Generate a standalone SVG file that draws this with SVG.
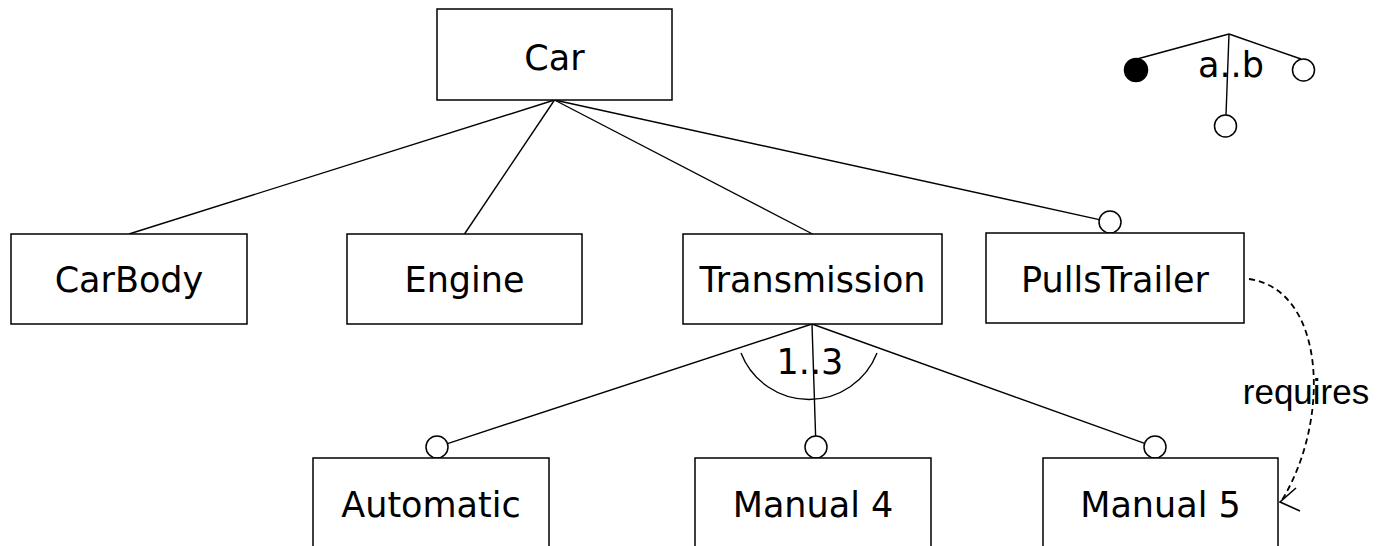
<svg xmlns="http://www.w3.org/2000/svg" width="1388" height="546" viewBox="0 0 1388 546">
<style>
.box{fill:#fff;stroke:#000;stroke-width:1.5}
.lbl{font-family:"DejaVu Sans",sans-serif;font-size:35px;text-anchor:middle;fill:#000}
.ln{stroke:#000;stroke-width:1.4;fill:none}
.opt{fill:#fff;stroke:#000;stroke-width:1.5}
.req{font-family:"Liberation Sans",Arial,sans-serif;font-size:35px;text-anchor:middle;fill:#000}
</style>
<rect width="1388" height="546" fill="#fff"/>
<g id="connectors">
<line class="ln" x1="554.5" y1="100" x2="129" y2="234"/>
<line class="ln" x1="554.5" y1="100" x2="464.5" y2="234"/>
<line class="ln" x1="554.5" y1="100" x2="812.5" y2="234"/>
<line class="ln" x1="554.5" y1="100" x2="1099.3" y2="219.6"/>
<line class="ln" x1="812" y1="324" x2="447.5" y2="443.6"/>
<line class="ln" x1="812" y1="324" x2="815.6" y2="436"/>
<line class="ln" x1="812" y1="324" x2="1144.6" y2="443.3"/>
<path class="ln" d="M741,353 A73,73 0 0 0 877,353"/>
<circle class="opt" cx="1110" cy="222" r="11"/>
<circle class="opt" cx="437" cy="447" r="11"/>
<circle class="opt" cx="816" cy="447" r="11"/>
<circle class="opt" cx="1155" cy="447" r="11"/>
<text class="lbl" x="810" y="374">1..3</text>
<text class="req" x="1306" y="404">requires</text>
<path d="M1249,279 C1326,290 1331,420 1282,500" fill="none" stroke="#000" stroke-width="1.8" stroke-dasharray="6 4"/>
<path d="M1296,488 L1280,502 L1300,511" fill="none" stroke="#000" stroke-width="1.6"/>
</g>
<g id="legend">
<line class="ln" x1="1229" y1="34" x2="1137" y2="59"/>
<line class="ln" x1="1229" y1="34" x2="1301" y2="59"/>
<line class="ln" x1="1229" y1="34" x2="1226" y2="115"/>
<circle cx="1136" cy="70" r="11.5" fill="#000" stroke="#000" stroke-width="1.5"/>
<circle class="opt" cx="1303.5" cy="70" r="11"/>
<circle class="opt" cx="1225.5" cy="126" r="11"/>
<text class="lbl" x="1231" y="77">a..b</text>
</g>
<g id="car"><rect class="box" x="437" y="9" width="235" height="91"/><text class="lbl" x="554.5" y="70">Car</text></g>
<g id="carbody"><rect class="box" x="11" y="234" width="236" height="90"/><text class="lbl" x="129" y="292">CarBody</text></g>
<g id="engine"><rect class="box" x="347" y="234" width="235" height="90"/><text class="lbl" x="464.5" y="292">Engine</text></g>
<g id="transmission"><rect class="box" x="683" y="234" width="259" height="90"/><text class="lbl" x="812.5" y="292">Transmission</text></g>
<g id="pullstrailer"><rect class="box" x="986" y="233" width="258" height="90"/><text class="lbl" x="1115" y="292">PullsTrailer</text></g>
<g id="automatic"><rect class="box" x="313" y="458" width="236" height="90"/><text class="lbl" x="431" y="517">Automatic</text></g>
<g id="manual4"><rect class="box" x="695" y="458" width="236" height="90"/><text class="lbl" x="813" y="517">Manual 4</text></g>
<g id="manual5"><rect class="box" x="1043" y="458" width="235" height="90"/><text class="lbl" x="1160.5" y="517">Manual 5</text></g>
</svg>
